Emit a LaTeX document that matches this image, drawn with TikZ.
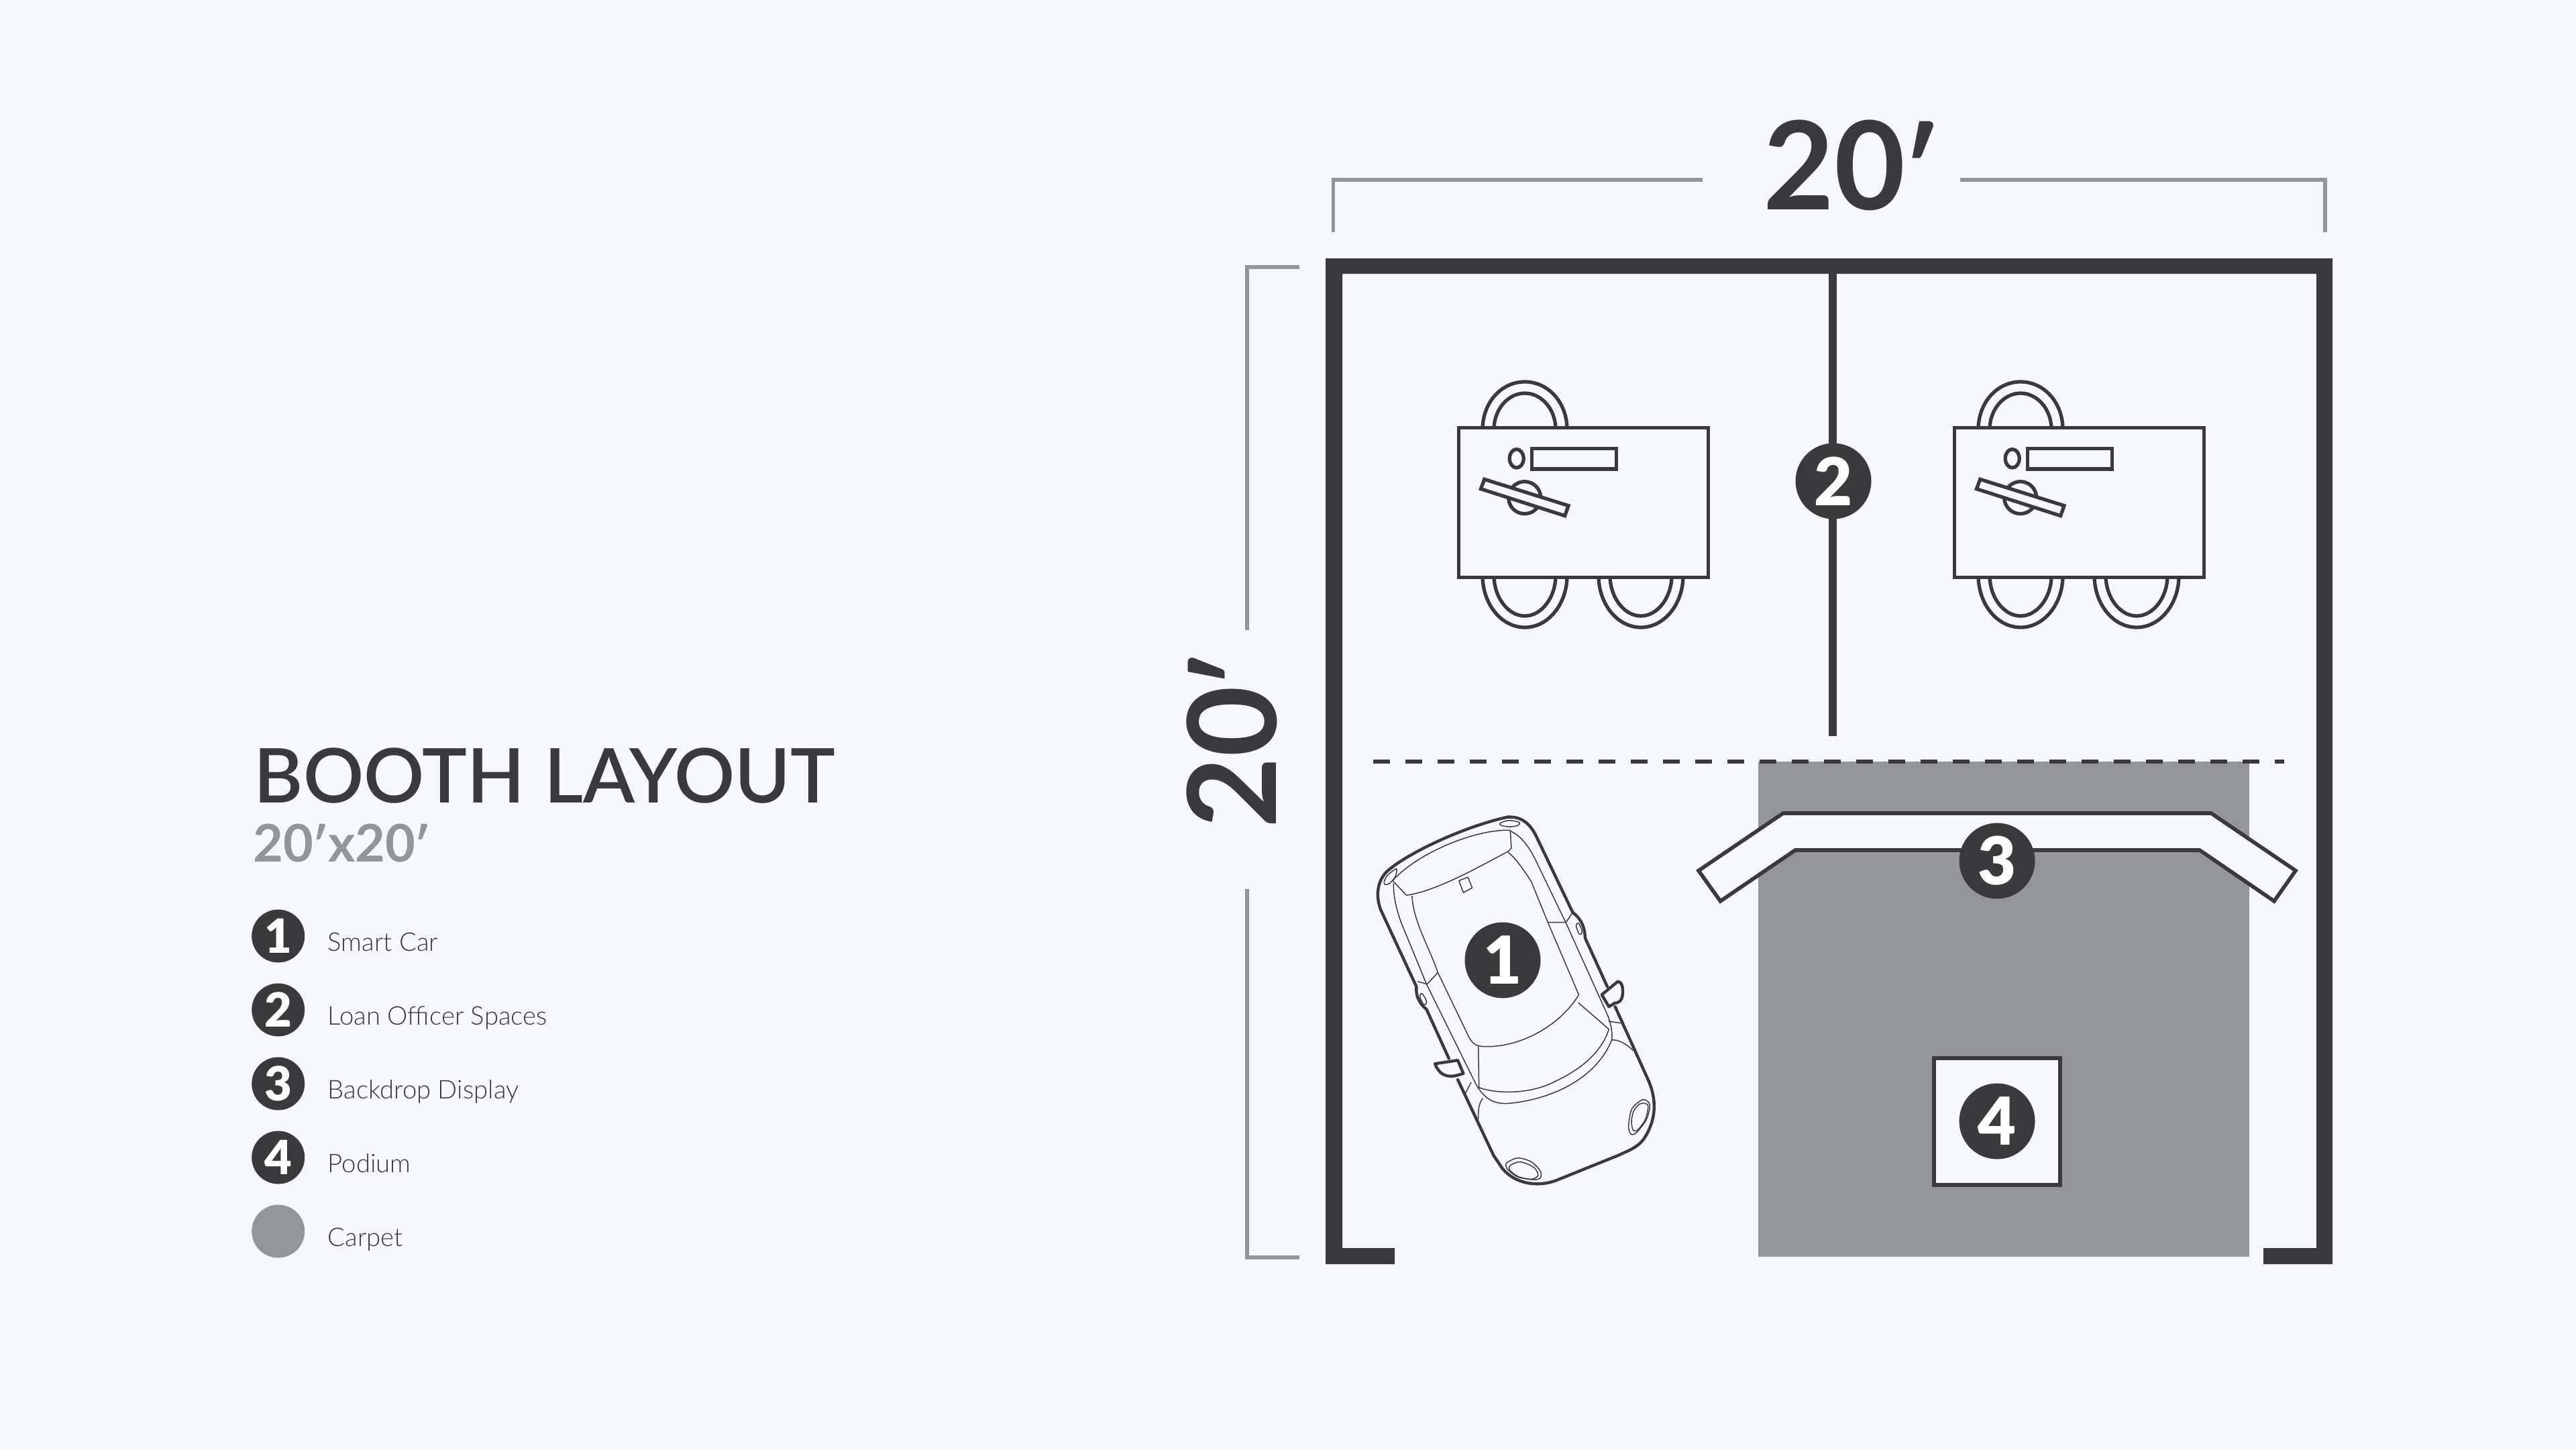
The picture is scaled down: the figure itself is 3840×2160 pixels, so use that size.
\documentclass[tikz,border=0pt]{standalone}
\usepackage{fontspec}
\setmainfont{Lato}
\newfontfamily\lblack{Lato Black}
\newfontfamily\lbold{Lato}[UprightFont=*,BoldFont=* Bold]
\newfontfamily\llight{Lato Light}
\newfontfamily\lmed{Lato Semibold}
\newcommand\fsz[1]{\fontsize{#1}{#1}\selectfont}
\newcommand\prm{\kern-.03em\raisebox{-.025em}{\scalebox{.92}{′}}}
\definecolor{ink}{HTML}{3A3A3C}
\definecolor{carpetgray}{HTML}{939598}
\definecolor{paper}{HTML}{F6F8FA}
\tikzset{
  badge/.style={circle,fill=ink,text=white,inner sep=0pt,minimum size=113*0.01cm,font=\lblack\fsz{28}},
  legbadge/.style={circle,fill=ink,text=white,inner sep=0pt,minimum size=79*0.01cm,font=\lblack\fsz{20}},
  legtext/.style={anchor=base west,inner sep=0pt,text=ink,font=\llight\fsz{10.9}},
  dimline/.style={draw=carpetgray,line width=1.6pt,line cap=butt,miter limit=10},
  desk/.style={draw=ink,line width=1.5pt,fill=paper},
  chair/.style={draw=ink,line width=1.5pt},
  carthick/.style={draw=ink,line width=1.25pt,line cap=round,line join=round},
  carthin/.style={draw=ink,line width=0.42pt,line join=round}
}
\newcommand\deskset[1]{%
  \begin{scope}[xshift=#1*0.01cm]
    \draw[chair] (2210,640) .. controls (2210,600) and (2238,569) .. (2273,569) .. controls (2308,569) and (2336,600) .. (2336,640);
    \draw[chair] (2227,640) .. controls (2227,610) and (2248,586) .. (2273,586) .. controls (2298,586) and (2319,610) .. (2319,640);
    \foreach \cx in {2273,2446}{
      \draw[chair] (\cx-63,858) .. controls (\cx-63,900) and (\cx-35,935) .. (\cx,935) .. controls (\cx+35,935) and (\cx+63,900) .. (\cx+63,858);
      \draw[chair] (\cx-46,858) .. controls (\cx-46,890) and (\cx-25,918) .. (\cx,918) .. controls (\cx+25,918) and (\cx+46,890) .. (\cx+46,858);
    }
    \draw[desk] (2174.5,637.7) rectangle (2546.5,860.3);
    \draw[desk] (2260.7,683.3) ellipse [x radius=10.5,y radius=13.8];
    \draw[desk] (2283.6,668.3) rectangle (2409.7,699);
    \draw[desk] (2272.7,741.7) circle [radius=24];
    \draw[desk] (2212.7,714.3) -- (2338,753.6) -- (2332.7,768.7) -- (2207.4,728.6) -- cycle;
  \end{scope}}
\begin{document}
\begin{tikzpicture}[x=0.01cm,y=-0.01cm]
\useasboundingbox (0,0) rectangle (3840,2160);
\fill[paper] (0,0) rectangle (3840,2160);

% carpet
\fill[carpetgray] (2620.6,1135) rectangle (3353,1873);

% walls
\fill[ink] (2079,1860) -- (2001,1860) -- (2001,408) -- (3453,408) -- (3453,1860) -- (3374,1860) -- (3374,1884) -- (3477,1884) -- (3477,385) -- (1976,385) -- (1976,1884) -- (2079,1884) -- cycle;
\fill[ink] (2726,408) rectangle (2738,1097);
\draw[ink,line width=1.7pt,dash pattern=on 25*0.01cm off 23*0.01cm] (2047,1135) -- (3405,1135);

% dimensions
\draw[dimline] (1987.5,346) -- (1987.5,268) -- (2538,268);
\draw[dimline] (2922,268) -- (3466,268) -- (3466,346);
\draw[dimline] (1937,398) -- (1859,398) -- (1859,939);
\draw[dimline] (1859,1325) -- (1859,1874) -- (1937,1874);
\node[anchor=base west,inner sep=0pt,text=ink,font=\lbold\bfseries\fsz{52}] (dimtop) at (2628,312) {20\prm};
\node[anchor=base west,inner sep=0pt,text=ink,font=\lbold\bfseries\fsz{52},rotate=90] (dimleft) at (1902,1235) {20\prm};

% desks
\deskset{0}
\deskset{739}

% backdrop
\draw[draw=ink,fill=paper,line width=1.6pt,miter limit=10] (2658,1212) -- (2532,1297.5) -- (2564.5,1343) -- (2676,1267) -- (3279,1267) -- (3390,1343) -- (3422,1297.5) -- (3296,1212) -- cycle;

% podium
\draw[draw=ink,fill=paper,line width=1.6pt] (2883,1577) rectangle (3071,1766);

% car
\begin{scope}[shift={(2000,1180)},x=0.003333cm,y=-0.003953cm]
  \draw[carthin] (232,345) .. controls (232,400) and (245,440) .. (265,490) -- (380,725) -- (600,1100) .. controls (640,1160) and (680,1175) .. (740,1175) .. controls (900,1165) and (1130,1100) .. (1210,935) .. controls (1215,900) and (1200,860) .. (1190,840) -- (1005,495) -- (870,260) .. controls (830,190) and (790,160) .. (755,148);
  \draw[carthin] (755,145) .. controls (600,140) and (340,230) .. (228,335) -- (290,390) .. controls (420,375) and (600,290) .. (745,225) -- (760,212) -- cycle;
  \draw[carthin] (315,392) .. controls (320,490) and (400,600) .. (430,680) -- (570,925) .. controls (590,955) and (610,960) .. (640,960) .. controls (800,965) and (980,880) .. (1062,765) -- (925,495) -- (850,340) .. controls (820,300) and (780,250) .. (745,228);
  \draw[carthin] (925,492) -- (1005,492) -- (1032,458);
  \draw[carthin] (340,715) -- (383,725) -- (430,682);
  \draw[carthin] (612,960) -- (615,1115) .. controls (700,1140) and (850,1140) .. (960,1090) .. controls (1060,1050) and (1160,990) .. (1197,895) -- (1060,795);
  \draw[carthin] (555,1135) -- (580,1095);
  \draw[carthin] (1195,865) -- (1250,872);
  \draw[carthin] (1210,935) .. controls (1250,935) and (1280,955) .. (1305,975);
  \draw[carthin] (632,1155) .. controls (610,1180) and (612,1210) .. (612,1235);
  \draw[carthin] (525,335) -- (565,322) -- (585,362) -- (545,380) -- cycle;
  \draw[carthin] plot[smooth cycle] coordinates {(710,118) (750,108) (795,115) (790,127) (750,132) (715,127)};
  \draw[carthin] plot[smooth cycle] coordinates {(190,340) (205,315) (245,290) (240,320) (215,345) (195,350)};
  \draw[carthin] plot[smooth cycle] coordinates {(1050,505) (1060,495) (1075,520) (1075,535) (1063,535)};
  \draw[carthin] plot[smooth cycle] coordinates {(350,770) (360,760) (378,785) (378,800) (365,800)};
  \draw[carthin] plot[smooth cycle] coordinates {(1350,1160) (1380,1180) (1365,1235) (1320,1285) (1295,1290) (1285,1260) (1300,1195)};
  \draw[carthin] plot[smooth cycle] coordinates {(1340,1175) (1372,1182) (1360,1235) (1325,1275) (1305,1275) (1298,1240) (1310,1200)};
  \draw[carthin] plot[smooth cycle] coordinates {(745,1395) (790,1380) (850,1395) (890,1430) (890,1455) (860,1462) (790,1452) (745,1425) (735,1405)};
  \draw[carthin] plot[smooth cycle] coordinates {(755,1408) (800,1395) (860,1415) (880,1445) (850,1460) (790,1450) (752,1425)};
  \draw[carthick] (745,95) .. controls (800,93) and (840,115) .. (870,165) -- (1035,455) .. controls (1060,470) and (1090,500) .. (1090,550) -- (1190,735);
  \draw[carthick] (1225,810) -- (1375,1090) .. controls (1410,1160) and (1410,1230) .. (1360,1300) .. controls (1330,1340) and (1290,1350) .. (1240,1370) -- (960,1465) .. controls (880,1490) and (780,1480) .. (720,1420) -- (680,1370) -- (520,1085);
  \draw[carthick] (480,1005) -- (380,820) .. controls (350,800) and (330,770) .. (335,735) -- (175,445) .. controls (150,390) and (160,330) .. (210,295) .. controls (300,230) and (550,130) .. (745,95);
  \draw[carthick] (1165,765) -- (1237,715) .. controls (1255,715) and (1262,740) .. (1258,765) .. controls (1255,790) and (1240,795) .. (1222,797) -- (1197,810) -- cycle;
  \draw[carthick] (418,1025) -- (520,1012) -- (545,1062) -- (520,1068) .. controls (470,1080) and (435,1065) .. (418,1025) -- cycle;
\end{scope}

% badges
\node[badge] (n1) at (2240,1431) {1};
\node[badge] (n2) at (2733,717) {2};
\node[badge] (n3) at (2977,1283) {3};
\node[badge] (n4) at (2977,1671) {4};

% title
\node[anchor=base west,inner sep=0pt,text=ink,font=\lmed\fsz{31.95}] (title) at (378,1196) {BOOTH LAYOUT};
\node[anchor=base west,inner sep=0pt,text=carpetgray,font=\lbold\bfseries\fsz{22}] (subtitle) at (377,1284) {20\prm x20\prm};

% legend
\node[legbadge] (l1) at (414.7,1395) {1};
\node[legbadge] (l2) at (414.7,1505) {2};
\node[legbadge] (l3) at (414.7,1615) {3};
\node[legbadge] (l4) at (414.7,1725) {4};
\node[circle,fill=carpetgray,inner sep=0pt,minimum size=79*0.01cm] (l5) at (414.7,1835) {};
\node[legtext] (t1) at (488,1417) {Smart Car};
\node[legtext] (t2) at (488,1527) {Loan Officer Spaces};
\node[legtext] (t3) at (488,1637) {Backdrop Display};
\node[legtext] (t4) at (488,1747) {Podium};
\node[legtext] (t5) at (488,1857) {Carpet};
\end{tikzpicture}
\end{document}
